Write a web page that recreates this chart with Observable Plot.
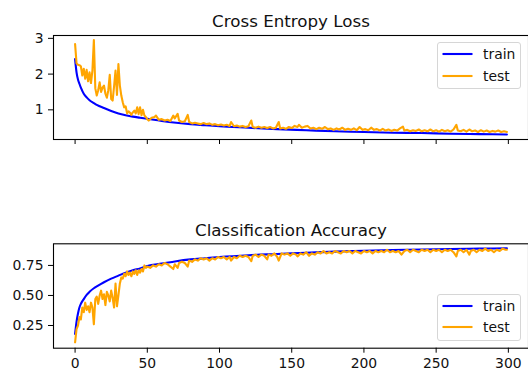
<!DOCTYPE html>
<html>
<head>
<meta charset="utf-8">
<script src="https://cdn.jsdelivr.net/npm/d3@7"></script>
<script src="https://cdn.jsdelivr.net/npm/@observablehq/plot@0.6"></script>
<style>
  html, body { margin: 0; padding: 0; background: #fff; }
  #wrap { position: relative; width: 528px; height: 372px; overflow: hidden; font-family: "DejaVu Sans", sans-serif; }
  #wrap svg { display: block; }
  .legend { position: absolute; box-sizing: border-box; width: 84px; height: 47px; border: 1px solid #d6d6d6; border-radius: 3px; background: rgba(255,255,255,0.8); }
  .legend .row { position: absolute; left: 4px; height: 16px; display: flex; align-items: center; }
  .legend .row span { margin-left: 10px; font-size: 13.9px; color: #111; line-height: 16px; }
</style>
</head>
<body>
<div id="wrap"></div>
<script>
// ---- Cross entropy loss ----
const lossTrainEpoch = [0,1,2,3,4,6,8,10,13,15,20,25,30,35,40,45,50,60,70,80,90,100,120,140,160,180,200,220,240,260,280,299];
const lossTrainValue = [2.42,2.05,1.85,1.73,1.62,1.45,1.35,1.27,1.19,1.14,1.05,0.97,0.90,0.85,0.81,0.78,0.75,0.69,0.64,0.60,0.57,0.54,0.50,0.46,0.43,0.40,0.38,0.36,0.35,0.33,0.32,0.31];

const lossTestEpoch = [0,1,2,3,4,5,6,7,8,9,10,11,12,13,14,15,16,17,18,19,20,21,22,23,24,25,26,27,28,29,30,31,32,33,34,35,36,37,38,39,40,41,42,43,44,45,46,47,48,49,50,51,
  53,55,56,58,60,62,64,66,68,69,71,72,74,76,78,79,81,83,85,87,89,91,93,95,97,99,101,103,105,107,108,110,112,114,116,118,120,122,123,125,127,129,131,133,135,137,139,141,142,144,146,148,150,
  152,154,155,157,159,161,163,165,167,169,171,173,175,177,179,181,183,185,187,189,191,193,195,197,199,201,203,205,207,209,211,213,215,217,219,221,223,225,227,228,230,232,234,236,238,240,
  242,244,246,248,250,252,254,256,258,260,262,264,265,267,269,271,273,275,277,279,281,283,285,287,289,291,293,295,297,299];
const lossTestValue = [2.84,2.30,2.26,2.25,2.22,1.96,2.15,1.87,2.12,1.80,2.05,1.75,2.10,2.95,1.60,1.40,1.55,1.77,1.50,1.62,1.68,1.45,1.34,1.55,1.98,1.30,1.26,1.66,2.10,1.42,2.28,1.68,1.40,1.21,1.07,1.10,0.90,0.96,0.92,0.86,0.93,0.98,0.90,1.07,0.88,1.07,0.85,1.00,0.84,0.80,0.74,0.70,
  0.78,0.80,0.84,0.72,0.74,0.70,0.72,0.69,0.84,0.76,0.89,0.70,0.66,0.68,0.86,0.66,0.62,0.64,0.62,0.60,0.63,0.60,0.62,0.58,0.60,0.57,0.59,0.56,0.58,0.55,0.66,0.54,0.56,0.53,0.55,0.52,0.54,0.70,0.52,0.50,0.53,0.50,0.52,0.49,0.52,0.48,0.50,0.66,0.48,0.50,0.47,0.52,0.49,
  0.55,0.52,0.58,0.50,0.53,0.55,0.48,0.50,0.46,0.50,0.47,0.52,0.46,0.48,0.44,0.48,0.45,0.50,0.44,0.47,0.44,0.48,0.43,0.52,0.44,0.46,0.43,0.50,0.44,0.46,0.42,0.47,0.42,0.45,0.41,0.44,0.42,0.48,0.53,0.42,0.44,0.40,0.43,0.41,0.45,0.40,
  0.43,0.40,0.45,0.40,0.43,0.39,0.44,0.40,0.43,0.39,0.45,0.58,0.42,0.40,0.44,0.39,0.45,0.40,0.42,0.38,0.43,0.39,0.42,0.38,0.41,0.39,0.42,0.38,0.40,0.38];

// ---- Classification accuracy ----
const accTrainEpoch = [0,1,2,3,4,6,8,10,13,15,20,25,30,35,40,45,50,60,70,80,90,100,120,140,160,180,200,220,240,260,280,299];
const accTrainValue = [0.18,0.28,0.35,0.40,0.43,0.47,0.505,0.53,0.56,0.575,0.61,0.64,0.665,0.69,0.71,0.725,0.745,0.765,0.785,0.80,0.81,0.82,0.835,0.845,0.855,0.865,0.872,0.878,0.883,0.887,0.89,0.893];

const accTestEpoch = [0,1,2,3,4,5,6,7,8,9,10,11,12,13,14,15,16,17,18,19,20,21,22,23,24,25,26,27,28,29,30,31,32,33,34,35,36,37,38,39,40,41,42,43,44,45,46,47,48,49,50,
  52,54,56,58,60,62,64,66,68,69,71,72,74,76,78,79,81,83,85,87,89,91,93,95,97,99,101,103,105,107,108,110,112,114,116,118,120,122,123,125,127,129,131,133,134,136,138,140,141,143,145,147,149,151,153,154,
  156,158,160,162,164,166,168,170,172,174,176,178,180,182,184,186,188,190,192,194,196,198,200,202,204,206,208,210,212,214,216,218,220,222,224,226,228,230,232,234,236,238,240,
  242,244,246,248,250,252,254,256,258,260,262,264,265,267,269,271,273,274,276,278,280,282,284,286,288,290,292,294,296,298,299];
const accTestValue = [0.11,0.22,0.25,0.32,0.30,0.40,0.36,0.44,0.38,0.41,0.36,0.44,0.40,0.26,0.47,0.49,0.43,0.50,0.54,0.47,0.51,0.42,0.53,0.50,0.45,0.54,0.48,0.40,0.60,0.41,0.50,0.60,0.65,0.64,0.68,0.66,0.70,0.67,0.69,0.66,0.70,0.68,0.71,0.67,0.71,0.69,0.72,0.70,0.75,0.73,0.74,
  0.73,0.75,0.74,0.76,0.75,0.77,0.76,0.74,0.72,0.76,0.73,0.77,0.78,0.77,0.74,0.79,0.78,0.80,0.79,0.81,0.80,0.81,0.79,0.81,0.80,0.82,0.81,0.82,0.80,0.82,0.79,0.82,0.81,0.83,0.82,0.83,0.82,0.785,0.83,0.84,0.82,0.84,0.83,0.80,0.84,0.83,0.85,0.82,0.79,0.85,0.84,0.85,0.83,0.85,0.84,0.825,
  0.85,0.84,0.86,0.83,0.85,0.84,0.86,0.85,0.87,0.85,0.86,0.85,0.87,0.86,0.85,0.87,0.86,0.87,0.85,0.87,0.86,0.85,0.87,0.86,0.87,0.85,0.87,0.86,0.87,0.86,0.88,0.86,0.87,0.86,0.87,0.84,0.87,0.88,0.86,0.88,0.87,0.86,0.88,
  0.87,0.88,0.86,0.88,0.87,0.88,0.86,0.88,0.87,0.88,0.86,0.825,0.87,0.88,0.86,0.88,0.84,0.87,0.88,0.86,0.88,0.87,0.89,0.87,0.88,0.86,0.88,0.87,0.89,0.88,0.88];

const xTicks = [0, 50, 100, 150, 200, 250, 300];
const lossTicks = [1, 2, 3];
const accTicks = [0.25, 0.50, 0.75];
const titles = ["Cross Entropy Loss", "Classification Accuracy"];
const seriesNames = ["train", "test"];
const seriesColors = ["blue", "orange"];

const FONT = "DejaVu Sans";

function panel(o) {
  return Plot.plot({
    width: 528,
    height: 186,
    marginLeft: 53,
    marginRight: 0,
    marginTop: o.marginTop,
    marginBottom: o.marginBottom,
    style: { fontFamily: FONT, fontSize: "13.9px", color: "#111", background: "white" },
    x: { domain: [-14.95, 313.95] },
    y: { domain: o.yDomain },
    marks: [
      Plot.line(o.trainY, { x: o.trainX, y: o.trainY, stroke: seriesColors[0], strokeWidth: 2.1, curve: "monotone-x" }),
      Plot.line(o.testY, { x: o.testX, y: o.testY, stroke: seriesColors[1], strokeWidth: 2.1, strokeLinejoin: "round" }),
      Plot.frame({ stroke: "#000", strokeWidth: 1.1 }),
      Plot.axisY({ ticks: o.yTicks, tickSize: 5, tickPadding: 5, tickFormat: o.yFormat, label: null, stroke: "#000" }),
      Plot.axisX({ ticks: xTicks, tickSize: 5, tickPadding: 5, tickFormat: o.xLabels ? d3.format("d") : () => "", label: null, stroke: "#000" }),
      Plot.text([o.title], { text: d => d, frameAnchor: "top", dy: -8.3, lineAnchor: "bottom", fontSize: 16.7, fill: "#111" })
    ]
  });
}

const wrap = document.getElementById("wrap");
wrap.appendChild(panel({
  trainX: lossTrainEpoch, trainY: lossTrainValue, testX: lossTestEpoch, testY: lossTestValue,
  yDomain: [0.17, 3.08], yTicks: lossTicks, yFormat: d3.format("d"),
  title: titles[0], marginTop: 35, marginBottom: 47, xLabels: false
}));
wrap.appendChild(panel({
  trainX: accTrainEpoch, trainY: accTrainValue, testX: accTestEpoch, testY: accTestValue,
  yDomain: [0.061, 0.93], yTicks: accTicks, yFormat: d3.format(".2f"),
  title: titles[1], marginTop: 57.3, marginBottom: 24.3, xLabels: true
}));

function legend(top, rowYs) {
  const box = document.createElement("div");
  box.className = "legend";
  box.style.left = "437px";
  box.style.top = top + "px";
  seriesNames.forEach((name, i) => {
    const row = document.createElement("div");
    row.className = "row";
    row.style.top = (rowYs[i] - 8) + "px";
    row.innerHTML = `<svg width="31" height="16"><line x1="0.5" x2="30.5" y1="8" y2="8" stroke="${seriesColors[i]}" stroke-width="2.1"/></svg><span>${name}</span>`;
    box.appendChild(row);
  });
  wrap.appendChild(box);
}
legend(42, [11, 33]);
legend(294, [11, 32]);
</script>
</body>
</html>
